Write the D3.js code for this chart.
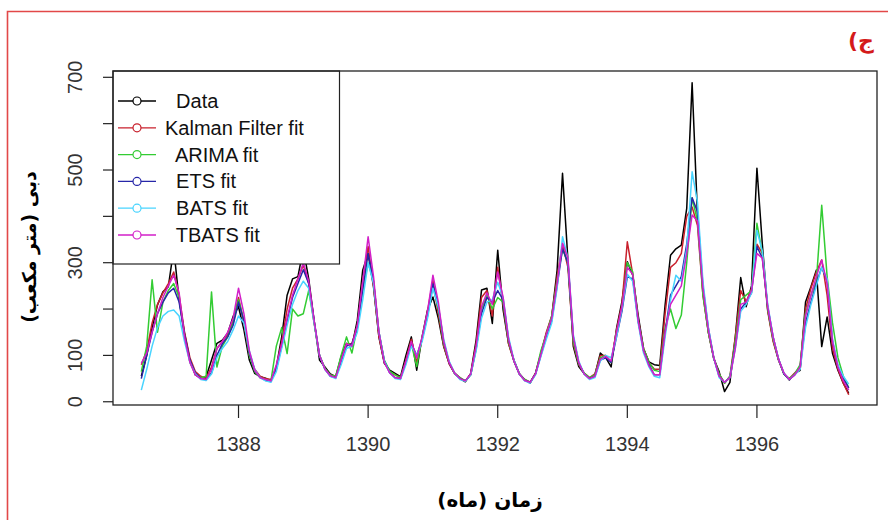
<!DOCTYPE html>
<html lang="fa"><head><meta charset="utf-8">
<title>Flow fits</title>
<script src="https://d3js.org/d3.v7.min.js"></script>
<style>
 body { margin: 0; background: #fff; }
 svg { display: block; }
 .leg text { white-space: pre; }
</style>
</head>
<body>
<script>
// monthly series, first month = 1386.5 (Persian calendar), 132 months
var startYear = 1386.5;
var xTicks = [1388, 1390, 1392, 1394, 1396];
var yTicks = [0, 100, 200, 300, 400, 500, 600, 700];
var yTickLabels = [0, 100, 300, 500, 700];
var legendLabels = ["  Data", "Kalman Filter fit", "  ARIMA fit", "  ETS fit", "  BATS fit", "  TBATS fit"];
var seriesColors = ["#000000", "#c8202c", "#33cc33", "#2626a8", "#48d4ff", "#d21fc8"];

var observed = [
  55,100,160,209,237,248,330,220,148,90,58,51,
  54,90,126,133,148,184,205,155,90,61,54,51,
  45,75,140,230,265,270,330,265,175,90,75,60,
  54,97,126,119,176,284,320,248,140,83,68,61,
  54,100,140,68,140,198,226,180,119,83,61,50,
  43,61,133,241,245,169,327,198,126,90,61,47,
  40,61,104,147,183,284,493,306,119,76,61,50,
  58,105,95,75,158,216,302,273,187,115,86,80,
  78,209,316,330,338,417,688,400,237,151,93,65,
  22,42,140,268,205,250,504,340,198,133,90,61,
  47,61,68,215,248,284,119,183,104,68,40,18];

var kalmanFit = [
  80,110,170,210,235,255,280,230,150,95,65,55,
  50,75,115,130,145,175,225,170,100,70,55,50,
  48,70,130,200,245,265,295,255,170,100,72,58,
  55,90,125,125,165,260,335,250,140,85,65,58,
  52,90,135,85,135,195,262,190,120,82,62,52,
  45,60,125,225,240,185,290,210,125,88,60,48,
  42,62,105,150,185,270,340,290,125,80,62,52,
  60,100,100,85,155,210,345,275,180,115,85,70,
  70,190,290,300,320,400,420,380,230,150,95,60,
  40,55,140,240,215,245,340,320,195,130,90,60,
  50,62,75,200,245,280,306,230,115,70,40,15];

var arimaFit = [
  65,120,263,150,215,240,255,225,140,85,60,52,
  55,237,75,120,140,170,220,175,100,65,52,48,
  45,120,160,104,200,185,190,240,170,100,72,58,
  55,100,140,105,160,240,300,260,150,90,66,58,
  52,85,125,76,140,190,250,200,125,85,62,52,
  45,58,113,200,230,200,225,215,130,88,60,48,
  42,60,110,145,185,260,330,300,130,82,62,52,
  58,95,100,85,150,200,300,280,175,115,85,68,
  65,160,200,158,187,300,440,390,230,150,95,60,
  40,55,130,220,230,240,385,320,200,135,92,60,
  50,60,80,190,230,260,424,270,170,95,55,30];

var etsFit = [
  50,100,150,190,215,235,245,215,145,90,62,50,
  48,62,100,125,140,165,215,175,105,68,52,46,
  45,70,120,175,225,255,285,255,175,100,70,55,
  52,85,120,125,160,240,320,260,150,88,62,52,
  50,85,125,100,135,185,255,205,130,85,62,50,
  45,58,115,190,225,215,240,220,135,88,60,46,
  42,60,100,140,175,250,330,300,140,85,60,50,
  55,90,95,85,140,195,270,265,175,110,80,58,
  58,150,230,250,270,340,440,410,250,160,95,55,
  42,52,120,200,215,235,335,310,205,140,92,60,
  48,58,72,170,215,255,290,260,130,75,50,30];

var batsFit = [
  25,70,120,160,185,195,198,185,130,85,60,48,
  46,60,95,115,130,155,185,170,110,70,52,45,
  42,65,115,165,210,240,260,245,170,100,70,55,
  50,80,115,120,150,220,300,255,150,88,62,50,
  48,80,120,100,130,180,245,205,135,88,62,48,
  44,58,110,180,215,220,258,225,140,90,60,45,
  40,58,98,135,170,245,356,310,145,88,60,48,
  52,88,100,95,140,200,275,260,170,105,75,55,
  52,140,220,273,260,330,496,430,260,160,95,52,
  42,52,115,195,210,235,370,325,210,140,92,62,
  48,58,70,160,210,250,290,265,135,80,55,38];

var tbatsFit = [
  83,105,150,190,225,250,273,235,140,85,58,50,
  48,70,115,130,150,180,245,190,110,68,52,48,
  45,80,125,180,230,265,300,260,175,100,70,56,
  52,90,125,120,165,260,356,270,150,85,62,52,
  50,88,130,95,140,195,273,215,130,85,62,50,
  45,60,120,205,235,210,280,225,135,88,60,46,
  42,60,102,145,180,255,342,310,140,85,60,50,
  55,92,98,88,150,205,290,275,175,110,78,58,
  58,150,210,230,250,320,403,390,245,155,95,55,
  42,52,115,210,215,240,320,310,205,140,92,62,
  48,58,75,185,230,270,306,255,130,75,45,25];

var allSeries = [observed, kalmanFit, arimaFit, etsFit, batsFit, tbatsFit];

var width = 888, height = 520;
var box = {left: 113, right: 877, top: 71, bottom: 405};

var x = d3.scaleLinear().domain([1386.063, 1397.853]).range([box.left, box.right]);
var y = d3.scaleLinear().domain([-7, 713.6]).range([box.bottom, box.top]);

var svg = d3.select("body").append("svg")
            .attr("width", width)
            .attr("height", height);

svg.append("rect").attr("width", width).attr("height", height).attr("fill", "#fff");

// red frame (left and top edges visible)
svg.append("path")
   .attr("d", "M7.5,520 L7.5,11.5 L888,11.5")
   .attr("fill", "none")
   .attr("stroke", "#e24848")
   .attr("stroke-width", 1.6);

svg.append("text")
   .attr("x", 861)
   .attr("y", 48)
   .attr("text-anchor", "middle")
   .attr("direction", "rtl")
   .attr("font-family", "DejaVu Sans, sans-serif")
   .attr("font-weight", "bold")
   .attr("font-size", 22)
   .attr("fill", "#d41a1a")
   .text("ج)");

var line = d3.line()
             .x(function(d, i) { return x(startYear + i / 12); })
             .y(function(d) { return y(d); });

var lines = svg.append("g").attr("class", "lines");
allSeries.forEach(function(s, k) {
  lines.append("path")
       .datum(s)
       .attr("fill", "none")
       .attr("stroke", seriesColors[k])
       .attr("stroke-width", 1.5)
       .attr("stroke-linejoin", "round")
       .attr("d", line);
});

// legend (white box over the lines)
var leg = svg.append("g").attr("class", "leg");
leg.append("rect")
   .attr("x", box.left)
   .attr("y", box.top)
   .attr("width", 339.5 - box.left)
   .attr("height", 264 - box.top)
   .attr("fill", "#fff")
   .attr("stroke", "#222")
   .attr("stroke-width", 1.2);

legendLabels.forEach(function(lab, k) {
  var cy = 101 + k * 26.8;
  leg.append("line")
     .attr("x1", 118).attr("x2", 156)
     .attr("y1", cy).attr("y2", cy)
     .attr("stroke", seriesColors[k])
     .attr("stroke-width", 1.3);
  leg.append("circle")
     .attr("cx", 137).attr("cy", cy).attr("r", 4)
     .attr("fill", "#fff")
     .attr("stroke", seriesColors[k])
     .attr("stroke-width", 1.2);
  leg.append("text")
     .attr("x", 165)
     .attr("y", cy + 7)
     .attr("font-family", "Liberation Sans, Arial, sans-serif")
     .attr("font-size", 20)
     .attr("fill", "#111")
     .text(lab);
});

// plot box
svg.append("rect")
   .attr("x", box.left).attr("y", box.top)
   .attr("width", box.right - box.left)
   .attr("height", box.bottom - box.top)
   .attr("fill", "none")
   .attr("stroke", "#222")
   .attr("stroke-width", 1.3);

// x axis ticks and labels
var xAxis = svg.append("g");
xAxis.selectAll("line").data(xTicks).enter().append("line")
     .attr("x1", function(d) { return x(d); })
     .attr("x2", function(d) { return x(d); })
     .attr("y1", box.bottom).attr("y2", box.bottom + 13)
     .attr("stroke", "#222").attr("stroke-width", 1.2);
xAxis.selectAll("text").data(xTicks).enter().append("text")
     .attr("x", function(d) { return x(d); })
     .attr("y", 451)
     .attr("text-anchor", "middle")
     .attr("font-family", "Liberation Sans, Arial, sans-serif")
     .attr("font-size", 20)
     .attr("fill", "#333")
     .text(function(d) { return d; });

// y axis ticks and rotated labels
var yAxis = svg.append("g");
yAxis.selectAll("line").data(yTicks).enter().append("line")
     .attr("x1", box.left - 10).attr("x2", box.left)
     .attr("y1", function(d) { return y(d); })
     .attr("y2", function(d) { return y(d); })
     .attr("stroke", "#222").attr("stroke-width", 1.2);
yAxis.selectAll("text").data(yTickLabels).enter().append("text")
     .attr("transform", function(d) { return "translate(82," + y(d) + ") rotate(-90)"; })
     .attr("text-anchor", "middle")
     .attr("font-family", "Liberation Sans, Arial, sans-serif")
     .attr("font-size", 20)
     .attr("fill", "#333")
     .text(function(d) { return d; });

// axis titles
svg.append("text")
   .attr("x", 490)
   .attr("y", 507)
   .attr("text-anchor", "middle")
   .attr("direction", "rtl")
   .attr("font-family", "DejaVu Sans, sans-serif")
   .attr("font-weight", "bold")
   .attr("font-size", 20)
   .attr("fill", "#000")
   .text("زمان (ماه)");

svg.append("text")
   .attr("transform", "translate(36,247) rotate(-90)")
   .attr("text-anchor", "middle")
   .attr("direction", "rtl")
   .attr("font-family", "DejaVu Sans, sans-serif")
   .attr("font-weight", "bold")
   .attr("font-size", 19)
   .attr("fill", "#000")
   .text("دبی (متر مکعب)");
</script>
</body></html>
